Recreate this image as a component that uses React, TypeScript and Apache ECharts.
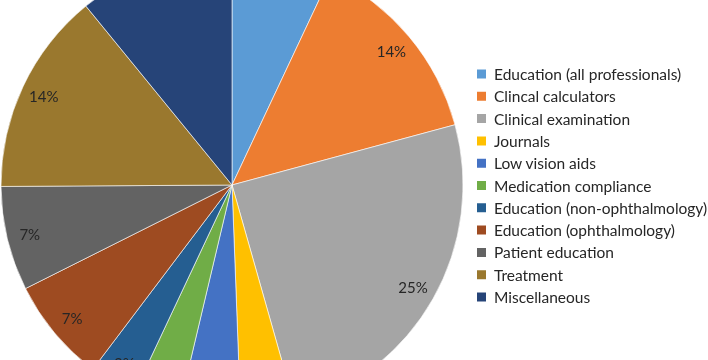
import React, { useEffect, useRef } from "react";
import * as echarts from "echarts";

const categories = [
  "Education (all professionals)",
  "Clincal calculators",
  "Clinical examination",
  "Journals",
  "Low vision aids",
  "Medication compliance",
  "Education (non-ophthalmology)",
  "Education (ophthalmology)",
  "Patient education",
  "Treatment",
  "Miscellaneous",
];

const shares = [7.0, 13.8, 24.8, 3.8, 4.3, 3.3, 3.3, 7.3, 7.3, 14.2, 10.9];

const palette = [
  "#5B9BD5",
  "#ED7D31",
  "#A5A5A5",
  "#FFC000",
  "#4472C4",
  "#70AD47",
  "#255E91",
  "#9E4B21",
  "#636363",
  "#9A782E",
  "#264478",
];

export default function App() {
  const ref = useRef<HTMLDivElement>(null);

  useEffect(() => {
    if (!ref.current) return;
    const chart = echarts.init(ref.current, undefined, { renderer: "svg" });
    const data = categories.map((name, i) => ({ name, value: shares[i] }));
    const font = "Lato, 'Open Sans', sans-serif";
    chart.setOption({
      animation: false,
      color: palette,
      legend: {
        orient: "vertical",
        left: 470,
        top: 61,
        icon: "rect",
        itemWidth: 11,
        itemHeight: 11,
        itemGap: 6.3,
        data: categories,
        textStyle: {
          fontFamily: font,
          fontSize: 15.5,
          lineHeight: 16,
          color: "#262626",
          padding: [0, 0, 0, 2],
        },
        selectedMode: false,
      },
      series: [
        {
          type: "pie",
          center: [232, 185],
          radius: [0, 231],
          startAngle: 90,
          clockwise: true,
          label: { show: false },
          labelLine: { show: false },
          itemStyle: { borderColor: "#ffffff", borderWidth: 0.6 },
          data,
          silent: true,
        },
        {
          type: "pie",
          center: [232, 185],
          radius: [179, 231],
          startAngle: 90,
          clockwise: true,
          avoidLabelOverlap: false,
          silent: true,
          legendHoverLink: false,
          itemStyle: { color: "rgba(0,0,0,0)", borderWidth: 0 },
          label: {
            show: true,
            position: "inside",
            formatter: (p: any) => Math.round(p.percent) + "%",
            fontFamily: font,
            fontSize: 15,
            color: "#262626",
          },
          labelLine: { show: false },
          data,
        },
      ],
    });
    return () => chart.dispose();
  }, []);

  return (
    <div
      ref={ref}
      style={{ position: "fixed", left: 0, top: 0, width: 708, height: 360 }}
    />
  );
}
